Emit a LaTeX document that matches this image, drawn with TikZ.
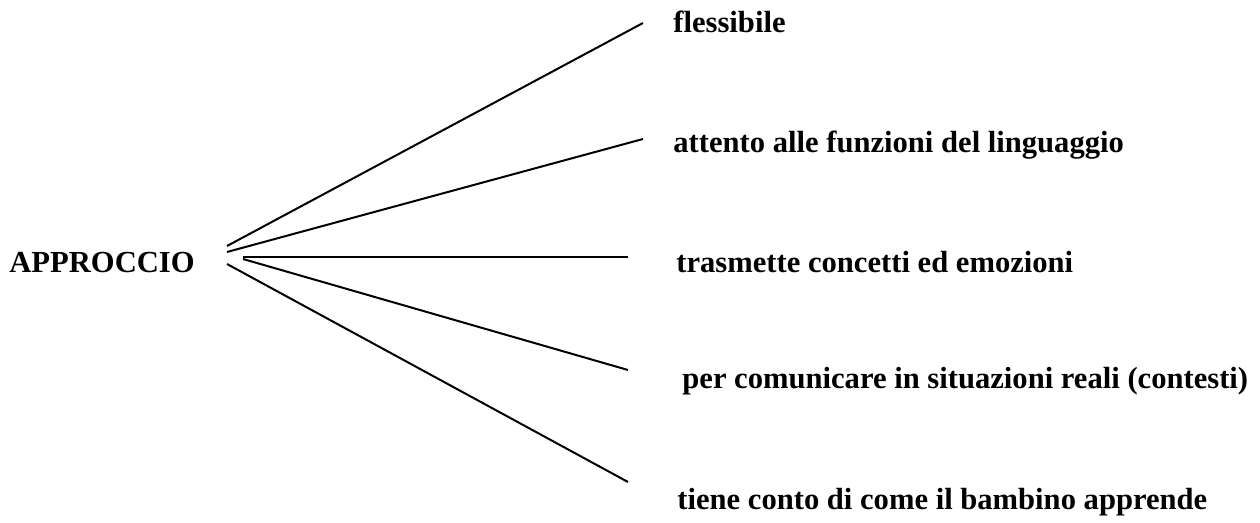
\documentclass[tikz,border=0pt]{standalone}
\usepackage{fontspec}
\setmainfont{Liberation Serif}
\begin{document}
\begin{tikzpicture}
		[x=0.5pt,y=-0.5pt,
		voce/.style={anchor=base west,inner sep=0pt,font=\fontsize{15.3}{18}\selectfont\bfseries},
		ramo/.style={line width=1pt}]
		\useasboundingbox (0,0) rectangle (1260,523);
		\node[voce,name=radice] at (9,273) {APPROCCIO};
		\node[voce,name=v1] at (673,33) {flessibile};
		\node[voce,name=v2] at (673,153) {attento alle funzioni del linguaggio};
		\node[voce,name=v3] at (676,273) {trasmette concetti ed emozioni};
		\node[voce,name=v4] at (682,389) {per comunicare in situazioni reali (contesti)};
		\node[voce,name=v5] at (677,510) {tiene conto di come il bambino apprende};
		% estremi dei rami
		\coordinate (s1) at (227,246); \coordinate (e1) at (643,23);
		\coordinate (s2) at (227,252); \coordinate (e2) at (643,139);
		\coordinate (s3) at (243,257); \coordinate (e3) at (628,257);
		\coordinate (s4) at (243,259); \coordinate (e4) at (628,370);
		\coordinate (s5) at (227,264); \coordinate (e5) at (628,482);
		\foreach \i in {1,...,5}
		{
			\draw[ramo] (s\i) -- (e\i);
		}
	\end{tikzpicture}
\end{document}
